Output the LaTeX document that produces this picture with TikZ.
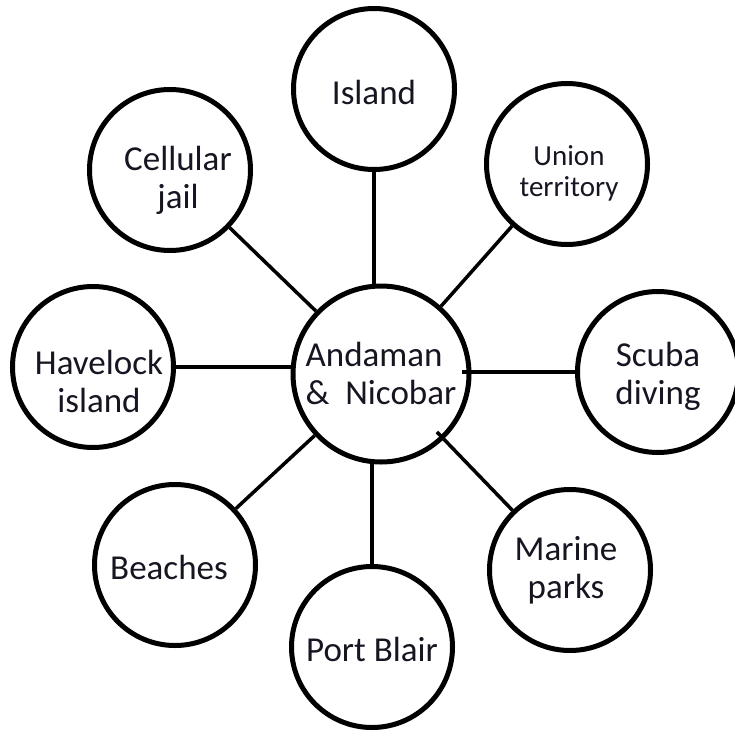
\documentclass[tikz,border=0pt]{standalone}
\usepackage{fontspec}
\setmainfont{Carlito}
\definecolor{inkdark}{RGB}{22,22,34}
\begin{document}
\begin{tikzpicture}[x=1pt,y=-1pt,
  bubble/.style={circle,draw=black,line width=5pt,fill=white,minimum size=161pt,inner sep=0pt},
  hubbubble/.style={bubble,minimum size=176pt},
  caption/.style={inner sep=0pt,align=center,text=inkdark,font=\fontsize{35}{38}\selectfont},
  smallcaption/.style={caption,font=\fontsize{29}{31}\selectfont},
  link/.style={draw=black,line width=3.5pt}]
\useasboundingbox (0,0) rectangle (735,733);

% outer topics
\node[bubble] (island)   at (374,89)  {};
\node[bubble] (union)    at (567,164) {};
\node[bubble] (scuba)    at (658,372) {};
\node[bubble] (marine)   at (570,570) {};
\node[bubble] (port)     at (372,647) {};
\node[bubble] (beaches)  at (175,565) {};
\node[bubble] (havelock) at (93,367)  {};
\node[bubble] (cellular) at (170,170) {};

% central topic
\node[hubbubble] (hub) at (381,374) {};

% spokes
\draw[link] (island.south) -- (island.south |- hub.north);
\draw[link,shorten >=-6pt] (port.north) -- (port.north |- hub.south);
\draw[link] (havelock.east) -- (havelock.east -| hub.west);
\draw[link,shorten >=-10pt] (scuba.west) -- (scuba.west -| hub.east);
\draw[link] (cellular) -- (hub);
\draw[link] (union) -- (hub);
\draw[link] (beaches) -- (hub);
\draw[link,shorten >=-10pt] (marine) -- (hub);

% captions
\node[caption] (islandtxt)   at ([yshift=-3pt]island.center)    {Island};
\node[smallcaption] (uniontxt) at ([xshift=2pt,yshift=-9pt]union.center) {Union\\territory};
\node[caption] (scubatxt)    at ([yshift=-4pt]scuba.center)     {Scuba\\diving};
\node[caption] (marinetxt)   at ([xshift=-4pt]marine.center)    {Marine\\parks};
\node[caption] (porttxt)     at ([yshift=-2pt]port.center)      {Port Blair};
\node[caption] (beachestxt)  at ([xshift=-6pt,yshift=-2pt]beaches.center) {Beaches};
\node[caption] (havelocktxt) at ([xshift=6pt,yshift=-14pt]havelock.center) {Havelock\\island};
\node[caption] (cellulartxt) at ([xshift=8pt,yshift=-10pt]cellular.center) {Cellular\\jail};
\node[caption,align=left] (hubtxt) at ([yshift=1pt]hub.center)  {Andaman\\\&\ \ Nicobar};
\end{tikzpicture}
\end{document}
